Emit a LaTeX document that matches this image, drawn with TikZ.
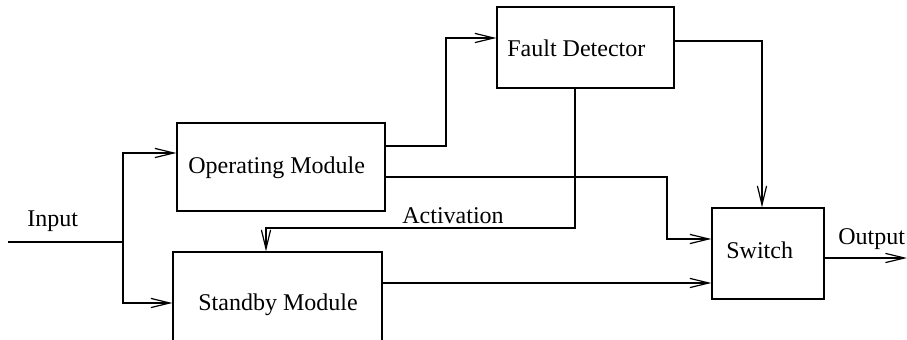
\documentclass[tikz,border=0pt]{standalone}
\usepackage{fontspec}
\setmainfont{Liberation Serif}
\usepackage{tikz}
\usetikzlibrary{arrows.meta}
\tikzset{
  blockbox/.style={draw, line width=0.6pt, inner sep=0pt},
  flow/.style={line width=0.6pt, -{Straight Barb[length=9.5pt,width=4.6pt,line width=0.6pt]}},
  wire/.style={line width=0.6pt},
  lbl/.style={anchor=base west, inner sep=0pt, font=\fontsize{12}{14}\selectfont}
}

\begin{document}
\begin{tikzpicture}[x=0.5pt,y=-0.5pt]
                % page (pixel units, y downwards)
                \clip (0,0) rectangle (907,340);

                % Blocks
                \node[blockbox, minimum width=104pt, minimum height=44pt] (op) at (281,167) {};
                \node[blockbox, minimum width=104.5pt, minimum height=51pt] (sb) at (277.5,303) {};
                \node[blockbox, minimum width=88.5pt, minimum height=40.5pt] (fault) at (585.5,47.5) {};
                \node[blockbox, minimum width=56pt, minimum height=45.5pt] (sw) at (768,253.5) {};

                % Texts
                \node[lbl] (optext) at (188,174) {Operating Module};
                \node[lbl] (sbtext) at (198,311) {Standby Module};
                \node[lbl] (faulttext) at (507,57) {Fault Detector};
                \node[lbl] (swtext) at (726,259) {Switch};
                \node[lbl] (intext) at (27,227) {Input};
                \node[lbl] (acttext) at (402,224) {Activation};
                \node[lbl] (outtext) at (838,245) {Output};

                % Input split
                \coordinate (in) at (8,242);
                \coordinate (split) at (123,242);
                \coordinate (out) at (907,258);
                \draw[wire] (in) -- (split);
                \draw[flow] (split) |- (op.west |- 0,153);
                \draw[flow] (split) |- (sb.west |- 0,303);

                % Operating module outputs
                \draw[flow] (op.east |- 0,146) -- (446,146) |- (fault.west |- 0,38);
                \draw[flow] (op.east |- 0,177) -- (667,177) |- (sw.west |- 0,239);

                % Standby module output
                \draw[flow] (sb.east |- 0,283) -- (sw.west |- 0,283);

                % Fault detector outputs
                \draw[flow] (fault.east |- 0,41) -| (sw.north -| 762,0);
                \draw[flow] (fault.south -| 575,0) |- (266,228) -- (sb.north -| 266,0);

                % Output
                \draw[flow] (sw.east |- 0,258) -- (out);
\end{tikzpicture}
\end{document}
